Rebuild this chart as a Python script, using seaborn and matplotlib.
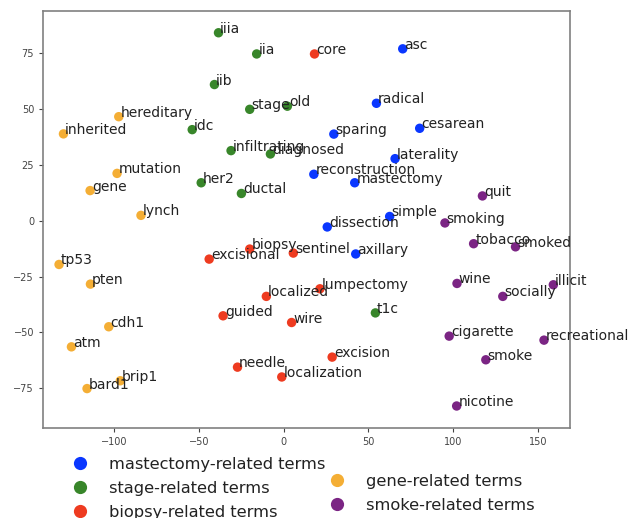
import matplotlib
matplotlib.use("Agg")
import matplotlib.pyplot as plt
from matplotlib.lines import Line2D
import seaborn as sns
import pandas as pd

# ---- data ----
mastectomy_words = ["asc", "radical", "sparing", "cesarean", "laterality", "reconstruction",
                    "mastectomy", "simple", "dissection", "axillary"]
mastectomy_x = [70.2, 54.7, 29.6, 80.2, 65.7, 17.8, 41.9, 62.5, 25.7, 42.5]
mastectomy_y = [77.0, 52.6, 38.8, 41.4, 27.8, 20.8, 17.0, 1.9, -2.8, -14.9]

stage_words = ["iiia", "iia", "iib", "stage", "old", "idc", "infiltrating", "diagnosed",
               "her2", "ductal", "t1c"]
stage_x = [-38.4, -15.9, -40.8, -20.0, 2.2, -53.9, -31.0, -7.8, -48.6, -24.9, 54.1]
stage_y = [84.2, 74.7, 61.0, 49.9, 51.3, 40.8, 31.4, 29.9, 17.0, 12.2, -41.3]

biopsy_words = ["core", "excisional", "biopsy", "sentinel", "localized", "lumpectomy",
                "guided", "wire", "excision", "needle", "localization"]
biopsy_x = [18.2, -43.9, -20.0, 5.7, -10.2, 21.4, -35.7, 4.7, 28.6, -27.2, -1.1]
biopsy_y = [74.7, -17.2, -12.7, -14.5, -33.9, -30.5, -42.6, -45.6, -61.1, -65.6, -70.0]

gene_words = ["hereditary", "inherited", "mutation", "gene", "lynch", "tp53", "pten",
              "cdh1", "atm", "brip1", "bard1"]
gene_x = [-97.2, -129.8, -98.2, -114.1, -84.1, -132.4, -113.9, -103.1, -125.1, -96.3, -115.9]
gene_y = [46.6, 38.9, 21.2, 13.5, 2.4, -19.6, -28.4, -47.5, -56.5, -71.7, -75.2]

smoke_words = ["quit", "smoking", "tobacco", "smoked", "wine", "illicit", "socially",
               "cigarette", "recreational", "smoke", "nicotine"]
smoke_x = [117.2, 95.1, 112.0, 136.7, 102.2, 159.0, 129.2, 97.6, 153.5, 119.2, 102.0]
smoke_y = [11.1, -1.0, -10.3, -11.7, -28.1, -28.7, -33.9, -51.7, -53.5, -62.3, -83.0]

group_names = ["mastectomy-related terms", "stage-related terms", "biopsy-related terms",
               "gene-related terms", "smoke-related terms"]
group_colors = ["#0a37ff", "#38862a", "#ee3b20", "#f4ae35", "#7b2584"]

x_ticks = [-100, -50, 0, 50, 100, 150]
y_ticks = [-75, -50, -25, 0, 25, 50, 75]

# ---- build table ----
groups = [
    (mastectomy_words, mastectomy_x, mastectomy_y),
    (stage_words, stage_x, stage_y),
    (biopsy_words, biopsy_x, biopsy_y),
    (gene_words, gene_x, gene_y),
    (smoke_words, smoke_x, smoke_y),
]
rows = []
for name, (w, xs, ys) in zip(group_names, groups):
    for word, xv, yv in zip(w, xs, ys):
        rows.append({"word": word, "x": xv, "y": yv, "group": name})
df = pd.DataFrame(rows)

sns.set_style("ticks")
plt.rcParams['font.family'] = ['DejaVu Sans']

fig = plt.figure(figsize=(6.34, 5.18), dpi=100)
ax = fig.add_axes([0.068, 0.174, 0.831, 0.805])

palette = dict(zip(group_names, group_colors))
sns.scatterplot(data=df, x="x", y="y", hue="group", palette=palette, s=46,
                linewidth=0, legend=False, ax=ax, zorder=3)

for _, r in df.iterrows():
    ax.text(r["x"] + 1.0, r["y"], r["word"], fontsize=10, color="#222222",
            ha="left", va="baseline", zorder=4, clip_on=False)

ax.set_xlim(-141.8, 168.8)
ax.set_ylim(-92.8, 94.0)
ax.set_xticks(x_ticks)
ax.set_yticks(y_ticks)
ax.set_xlabel("")
ax.set_ylabel("")
ax.tick_params(labelsize=7, colors="#444444", length=3, width=0.8)
for sp in ax.spines.values():
    sp.set_color("#808080")
    sp.set_linewidth(1.2)

def handle(c):
    return Line2D([], [], linestyle="none", marker="o", markersize=9.5,
                  markerfacecolor=c, markeredgewidth=0)

common = dict(loc="upper left", frameon=False, fontsize=11.7, borderpad=0,
              borderaxespad=0, labelspacing=0.55, handletextpad=0.8,
              handlelength=2.0, labelcolor="#222222")
leg1 = fig.legend([handle(c) for c in group_colors[:3]], group_names[:3],
                  bbox_to_anchor=(0.1006, 0.1182), **common)
leg2 = fig.legend([handle(c) for c in group_colors[3:]], group_names[3:],
                  bbox_to_anchor=(0.506, 0.0854), **common)

fig.savefig("out.png", dpi=100)
